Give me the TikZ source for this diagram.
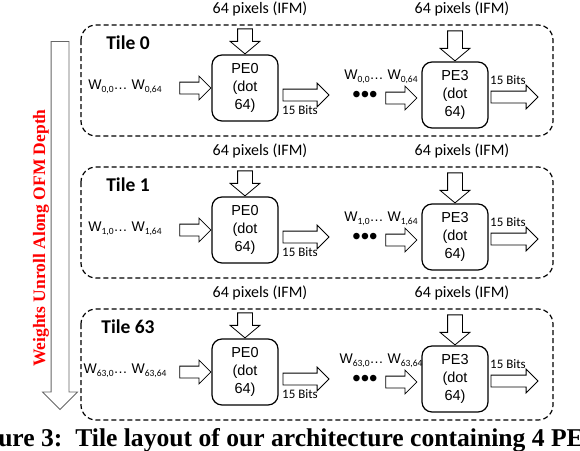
\documentclass[tikz,border=0pt]{standalone}
\usepackage{fontspec}
\usepackage{tikz}
\usetikzlibrary{shapes.arrows,positioning}
\newfontfamily\arialf{Liberation Sans}
\newfontfamily\calif{Carlito}
\newfontfamily\timesf{Liberation Serif}
\newcommand{\wsub}[1]{\raisebox{-3pt}{\calif\fontsize{9.5}{9.5}\selectfont #1}}

\tikzset{
  tilebox/.style={draw, dash pattern=on 5pt off 3pt, line width=1.2pt, rounded corners=15pt},
  pebox/.style={draw, line width=1.2pt, rounded corners=10pt, minimum width=66pt, minimum height=66pt,
    align=center, inner sep=0pt, font=\arialf\fontsize{14.5}{18}\selectfont},
  blockarr/.style={single arrow, draw, line width=0.8pt, inner sep=5.5pt,
    single arrow head extend=6pt, single arrow tip angle=90},
  downarr/.style={blockarr, rotate=-90, inner sep=7pt, single arrow head extend=7.5pt, single arrow tip angle=100},
  ifm/.style={font=\calif\fontsize{16}{16}\selectfont},
  bits/.style={font=\calif\fontsize{13}{13}\selectfont, inner sep=0pt},
  wlab/.style={font=\arialf\fontsize{14}{14}\selectfont, inner sep=0pt},
}

\begin{document}
\begin{tikzpicture}[x=1pt, y=-1pt]
\useasboundingbox (0,0) rectangle (580,450);

\node[blockarr, draw=black!60, rotate=-90, anchor=tip, inner sep=8.5pt, single arrow head extend=8.5pt,
  minimum height=368pt] (depth) at (60,410) {};
\node[rotate=90, text=red, font=\timesf\bfseries\fontsize{17.5}{17.5}\selectfont] (unroll) at (41,238)
  {Weights Unroll Along OFM Depth};

\foreach \k/\t in {0/0,1/1,2/63} {
  \pgfmathsetmacro\dy{142*\k}
  \draw[tilebox] (81,25+\dy) rectangle (553,136+\dy);
  \node[font=\calif\bfseries\fontsize{19.5}{19.5}\selectfont] (tile\k) at (128,43+\dy) {Tile \t};
  \node[ifm] (ifma\k) at (260,9+\dy) {64 pixels (IFM)};
  \node[ifm] (ifmb\k) at (462,9+\dy) {64 pixels (IFM)};
  \node[pebox] (pea\k) at (245,88+\dy) {PE0\\(dot\\64)};
  \node[pebox] (peb\k) at (455,95+\dy) {PE3\\(dot\\64)};
  \node[downarr, anchor=tip, minimum height=25pt] (ina\k) at (pea\k.north) {};
  \node[downarr, anchor=tip, minimum height=30pt] (inb\k) at (peb\k.north) {};
  \node[blockarr, anchor=tip, minimum height=31pt] (wa\k) at (pea\k.west) {};
  \node[blockarr, anchor=tip, minimum height=31pt] (wb\k) at ([shift={(-4,3)}]peb\k.west) {};
  \node[wlab] (wla\k) at (125,87+\dy) {W\wsub{\t,0}\ldots\ W\wsub{\t,64}};
  \node[blockarr, anchor=tail, minimum height=46pt] (outa\k) at ([shift={(4,7)}]pea\k.east) {};
  \node[blockarr, anchor=tail, minimum height=47pt] (outb\k) at ([shift={(2,2)}]peb\k.east) {};
  \node[bits] (bitsa\k) at (300,110+\dy) {15 Bits};
  \node[bits] (bitsb\k) at (508,80+\dy) {15 Bits};
  \node[font=\arialf\fontsize{24}{24}\selectfont, inner sep=0pt] (dots\k) at (365,97+\dy) {•••};
  \node[wlab] (wlb\k) at (381,77+\dy) {W\wsub{\t,0}\ldots\ W\wsub{\t,64}};
}

\node[anchor=base west, inner sep=0pt, font=\timesf\bfseries\fontsize{25.6}{25.6}\selectfont] (caption) at (-37.5,446)
  {Figure 3:\ \ Tile layout of our architecture containing 4 PEs};
\end{tikzpicture}
\end{document}
